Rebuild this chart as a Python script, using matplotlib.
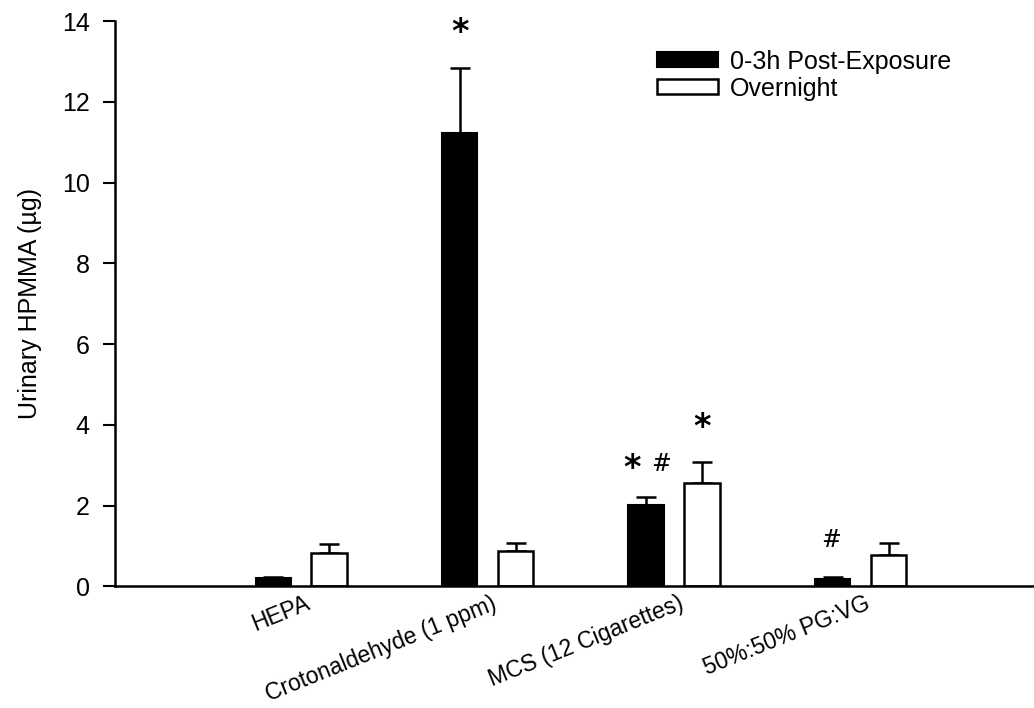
import numpy as np
import matplotlib
matplotlib.use('Agg')
import matplotlib.pyplot as plt

plt.rcParams['font.family'] = ['Liberation Sans', 'DejaVu Sans']

# data
groups = ['HEPA', 'Crotonaldehyde (1 ppm)', 'MCS (12 Cigarettes)', '50%:50% PG:VG']
post_mean = [0.20, 11.22, 2.02, 0.17]
post_err = [0.03, 1.63, 0.20, 0.07]
night_mean = [0.83, 0.87, 2.57, 0.77]
night_err = [0.21, 0.20, 0.51, 0.30]
series_labels = ['0-3h Post-Exposure', 'Overnight']

# significance marks: (group index, series index, x shift, text, y)
marks = [
	(1, 0, 0.0, '*', 13.3),
	(2, 0, -0.075, '*', 2.52),
	(2, 0, 0.08, '#', 2.72),
	(2, 1, 0.0, '*', 3.53),
	(3, 0, -0.01, '#', 0.86),
]


def main():
	fig = plt.figure(figsize=(10.34, 7.08), dpi=100)
	ax = fig.add_axes([0.111, 0.172, 0.889, 0.798])

	x = np.arange(1, len(groups) + 1)
	width = 0.19
	off = 0.15

	ax.bar(x - off, post_mean, width, color='black', edgecolor='black', linewidth=1.5,
	       label=series_labels[0], zorder=2)
	ax.bar(x + off, night_mean, width, color='white', edgecolor='black', linewidth=1.8,
	       label=series_labels[1], zorder=2)
	ax.errorbar(x - off, post_mean, yerr=[np.zeros(len(x)), post_err], fmt='none',
	            ecolor='black', elinewidth=1.8, capsize=7.5, capthick=1.8, zorder=1)
	ax.errorbar(x + off, night_mean, yerr=[np.zeros(len(x)), night_err], fmt='none',
	            ecolor='black', elinewidth=1.8, capsize=7.5, capthick=1.8, zorder=1)

	for g, s, dx, txt, y in marks:
		xpos = x[g] + (2 * s - 1) * off + dx
		if txt == '*':
			ax.text(xpos, y, txt, ha='center', va='bottom', fontsize=24, fontweight='bold',
			        family='DejaVu Sans')
		else:
			ax.text(xpos, y, txt, ha='center', va='bottom', fontsize=17, family='DejaVu Serif')

	ax.set_xlim(0, 4.93)
	ax.set_ylim(0, 14)
	ax.set_yticks(np.arange(0, 15, 2))
	ax.set_xticks(x + 0.02)
	ax.set_xticklabels(groups, rotation=22, ha='right', rotation_mode='anchor', fontsize=16.5)
	ax.tick_params(axis='x', length=0, pad=4)
	ax.tick_params(axis='y', length=9, width=1.5, direction='out', labelsize=18, pad=9)
	for sp in ['top', 'right']:
		ax.spines[sp].set_visible(False)
	for sp in ['left', 'bottom']:
		ax.spines[sp].set_linewidth(1.8)
	ax.spines['bottom'].set_zorder(3)

	ax.set_ylabel('Urinary HPMMA (\u00b5g)', fontsize=18, labelpad=14)

	ax.legend(loc='upper left', bbox_to_anchor=(0.576, 0.972), frameon=False, fontsize=18,
	          borderpad=0, handlelength=2.44, handleheight=0.56, handletextpad=0.48,
	          labelspacing=0.12)

	fig.savefig('out.png', dpi=100)


if __name__ == '__main__':
	main()
